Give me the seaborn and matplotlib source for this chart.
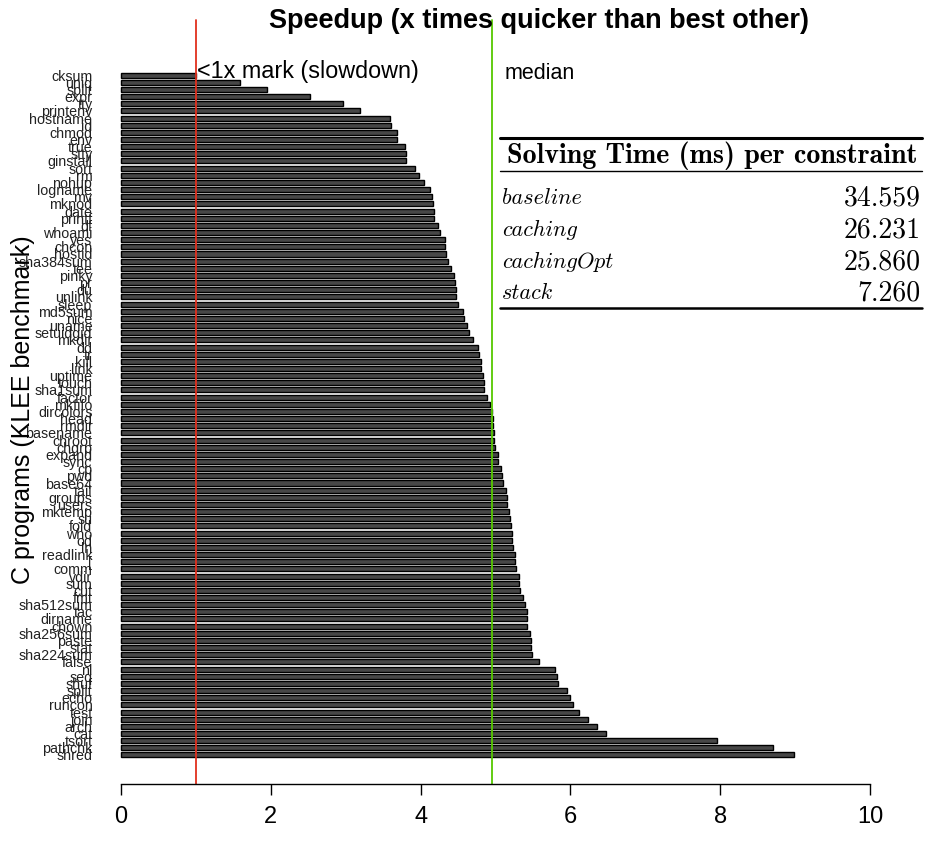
import numpy as np
import pandas as pd
import matplotlib
matplotlib.use("Agg")
import matplotlib.pyplot as plt
import seaborn as sns
from matplotlib.lines import Line2D
from matplotlib.transforms import blended_transform_factory

programs = ["cksum", "uniq", "split", "expr", "tty", "printenv", "hostname", "id",
            "chmod", "env", "true", "stty", "ginstall", "sort", "rm", "nohup",
            "logname", "mv", "mknod", "date", "printf", "df", "whoami", "yes",
            "chcon", "hostid", "sha384sum", "tee", "pinky", "pr", "du", "unlink",
            "sleep", "md5sum", "nice", "uname", "setuidgid", "mkdir", "dd", "tr",
            "kill", "link", "uptime", "touch", "sha1sum", "factor", "mkfifo", "dircolors",
            "head", "rmdir", "basename", "chroot", "chgrp", "expand", "sync", "cp",
            "pwd", "base64", "tail", "groups", "users", "mktemp", "su", "fold",
            "who", "od", "ln", "readlink", "[", "comm", "vdir", "sum",
            "cut", "fmt", "sha512sum", "tac", "dirname", "chown", "sha256sum", "paste",
            "stat", "sha224sum", "false", "nl", "seq", "shuf", "split", "echo",
            "runcon", "test", "join", "arch", "cat", "tsort", "pathchk", "shred"]

speedups = [1.00, 1.59, 1.95, 2.52, 2.97, 3.19, 3.59, 3.61,
            3.68, 3.68, 3.79, 3.80, 3.81, 3.92, 3.98, 4.05,
            4.12, 4.15, 4.17, 4.18, 4.18, 4.23, 4.26, 4.32,
            4.33, 4.34, 4.36, 4.40, 4.45, 4.46, 4.47, 4.47,
            4.50, 4.56, 4.58, 4.62, 4.65, 4.70, 4.77, 4.78,
            4.80, 4.80, 4.83, 4.84, 4.84, 4.89, 4.93, 4.95,
            4.96, 4.97, 4.98, 4.98, 4.99, 5.03, 5.04, 5.08,
            5.09, 5.10, 5.14, 5.15, 5.16, 5.18, 5.20, 5.21,
            5.22, 5.22, 5.23, 5.26, 5.26, 5.27, 5.31, 5.32,
            5.33, 5.37, 5.39, 5.42, 5.42, 5.42, 5.46, 5.48,
            5.48, 5.49, 5.58, 5.79, 5.82, 5.84, 5.95, 5.99,
            6.04, 6.12, 6.24, 6.36, 6.47, 7.96, 8.71, 8.99]

x_ticks = [0, 2, 4, 6, 8, 10]
title = "Speedup (x times quicker than best other)"
y_label = "C programs (KLEE benchmark)"
slow_label = "<1x mark (slowdown)"
median_label = "median"

table_header = "Solving Time (ms) per constraint"
table_configs = ["baseline", "caching", "cachingOpt", "stack"]
table_times = ["34.559", "26.231", "25.860", "7.260"]

sns.set_style("white")
plt.rcParams["font.family"] = ["Liberation Sans", "DejaVu Sans"]
plt.rcParams["text.color"] = "black"
plt.rcParams["axes.labelcolor"] = "black"
plt.rcParams["xtick.color"] = "black"
plt.rcParams["ytick.color"] = "black"

W, H = 925, 841
fig = plt.figure(figsize=(W / 100, H / 100), dpi=100)
ax = fig.add_axes([91 / W, (H - 784) / H, 809 / W, 739.4 / H])

df = pd.DataFrame({"pos": [f"{i:03d}" for i in range(len(programs))],
                   "speedup": speedups})
sns.barplot(data=df, x="speedup", y="pos", orient="y", color="#474747",
            saturation=1, edgecolor="#000000", linewidth=1.0, width=0.7,
            errorbar=None, ax=ax)

ax.set_xlim(-0.4, 10.4)
ax.set_ylim(99.06, -4.26)
ax.set_yticks(range(len(programs)))
ax.set_yticklabels(programs, fontsize=10.3, color="#222222")
ax.tick_params(axis="y", length=0, pad=-1)
ax.set_xticks(x_ticks)
ax.set_xticklabels([str(t) for t in x_ticks], fontsize=17)
ax.tick_params(axis="x", length=8, width=1, pad=8, direction="out",
               color="black", bottom=True)
for s in ["left", "top", "right"]:
    ax.spines[s].set_visible(False)
ax.spines["bottom"].set_bounds(0, 10)
ax.spines["bottom"].set_linewidth(1)
ax.spines["bottom"].set_color("black")
ax.set_xlabel("")
ax.set_ylabel(y_label, fontsize=18, va="center")
ax.yaxis.set_label_coords((23 - 91) / 809, (784 - 410) / 739.4)

trans = blended_transform_factory(ax.transData, ax.transAxes)
ytop = (784 - 20) / 739.4
median = float(np.median(speedups))
ax.plot([1, 1], [0, ytop], color="#e0301e", lw=1.3, transform=trans, clip_on=False)
ax.plot([median, median], [0, ytop], color="#55c800", lw=1.3, transform=trans,
        clip_on=False)
ax.annotate(slow_label, xy=(1, -0.45), xytext=(0.5, 0), textcoords="offset points",
            fontsize=16.8, ha="left", va="center")
ax.annotate(median_label, xy=(median, -0.2), xytext=(9, 0), textcoords="offset points",
            fontsize=15.5, ha="left", va="center")

fig.text(539 / W, 1 - 21 / H, title, fontsize=19.5, fontweight="bold",
         ha="center", va="center")

def fx(x):
    return x / W

def fy(y):
    return 1 - y / H

fig.add_artist(Line2D([fx(500), fx(922)], [fy(138)] * 2, lw=2.2, color="black"))
fig.add_artist(Line2D([fx(500), fx(922)], [fy(171)] * 2, lw=1.0, color="black"))
fig.add_artist(Line2D([fx(500), fx(922)], [fy(308)] * 2, lw=1.8, color="black"))
fig.text(fx(712), fy(156), table_header, family="cmb10", fontsize=20.2,
         ha="center", va="center")
row_y = [198, 230, 262, 293]
for cfg, t, yy in zip(table_configs, table_times, row_y):
    fig.text(fx(502), fy(yy), cfg, family="cmmi10", fontsize=16, ha="left", va="center")
    fig.text(fx(921), fy(yy), t, family="cmr10", fontsize=20, ha="right", va="center")

fig.savefig("out.png", dpi=100)
